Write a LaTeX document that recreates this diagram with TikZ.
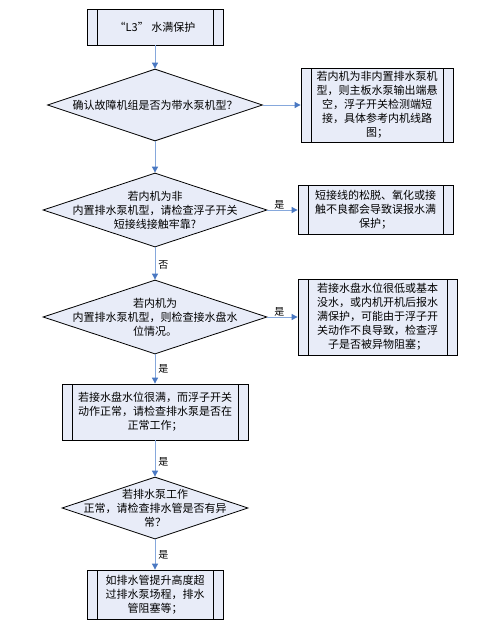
\documentclass[tikz,border=0pt]{standalone}
\usepackage{fontspec}
\setmainfont{Noto Sans CJK SC}
\usepackage{xcolor}
\usepackage{tikz}
\usetikzlibrary{arrows.meta,positioning,shapes.geometric}
\definecolor{boxfill}{HTML}{E8ECF8}
\definecolor{linkblue}{HTML}{86A8DC}
\definecolor{tipblue}{HTML}{4A78C2}

\begin{document}
\begin{tikzpicture}[x=1pt,y=-1pt,
  every node/.style={font=\fontsize{11}{14}\selectfont,align=center,inner sep=0pt},
  proc/.style={draw,fill=boxfill,line width=0.8pt},
  sub/.style={path picture={\draw[line width=0.8pt]
      ([xshift=10pt]path picture bounding box.north west) -- ([xshift=10pt]path picture bounding box.south west)
      ([xshift=-10pt]path picture bounding box.north east) -- ([xshift=-10pt]path picture bounding box.south east);}},
  decision/.style={diamond,draw,fill=boxfill,line width=0.8pt,aspect=3},
  link/.style={draw=linkblue,line width=0.9pt,-{Triangle[length=6pt,width=6pt,color=tipblue]}},
  tag/.style={font=\fontsize{10}{12}\selectfont}]
  \useasboundingbox (0,0) rectangle (499,637);
  \node[proc,sub,minimum width=136pt,minimum height=36pt] (a) at (155,27) {“L3” 水满保护};
  \node[decision,minimum width=215pt,minimum height=72pt,label=center:{确认故障机组是否为带水泵机型？}] (b) at (155,105) {};
  \node[proc,sub,minimum width=152pt,minimum height=74pt] (c) at (377,105) {若内机为非内置排水泵机\\型，则主板水泵输出端悬\\空，浮子开关检测端短\\接，具体参考内机线路\\图；};
  \node[decision,minimum width=224pt,minimum height=74pt,label=center:{若内机为非\\内置排水泵机型，请检查浮子开关\\短接线接触牢靠?}] (d) at (155,210) {};
  \node[proc,sub,minimum width=155pt,minimum height=49pt] (e) at (375.5,210) {短接线的松脱、氧化或接\\触不良都会导致误报水满\\保护；};
  \node[decision,minimum width=224pt,minimum height=74pt,label=center:{若内机为\\内置排水泵机型，则检查接水盘水\\位情况。}] (f) at (155,317) {};
  \node[proc,sub,minimum width=159pt,minimum height=76pt] (g) at (377.5,317) {若接水盘水位很低或基本\\没水，或内机开机后报水\\满保护，可能由于浮子开\\关动作不良导致，检查浮\\子是否被异物阻塞；};
  \node[proc,sub,minimum width=186pt,minimum height=56pt] (h) at (155,412) {若接水盘水位很满，而浮子开关\\动作正常，请检查排水泵是否在\\正常工作；};
  \node[decision,minimum width=186pt,minimum height=62pt,label=center:{若排水泵工作\\正常，请检查排水管是否有异\\常？}] (i) at (155,508) {};
  \node[proc,sub,minimum width=136pt,minimum height=49pt] (j) at (155,594.5) {如排水管提升高度超\\过排水泵场程，排水\\管阻塞等；};
  \draw[link] (a) -- (b); \draw[link] (b) -- (c);
  \draw[link] (b) -- (d);
  \draw[link] (d) -- node[tag,above,pos=0.4] {是} (e);
  \draw[link] (d) -- node[tag,right=3pt,pos=0.55] {否} (f);
  \draw[link] (f) -- node[tag,above,pos=0.4] {是} (g);
  \draw[link] (f) -- node[tag,right=3pt] {是} (h);
  \draw[link] (h) -- node[tag,right=3pt,pos=0.6] {是} (i);
  \draw[link] (i) -- node[tag,right=3pt] {是} (j);
\end{tikzpicture}
\end{document}
